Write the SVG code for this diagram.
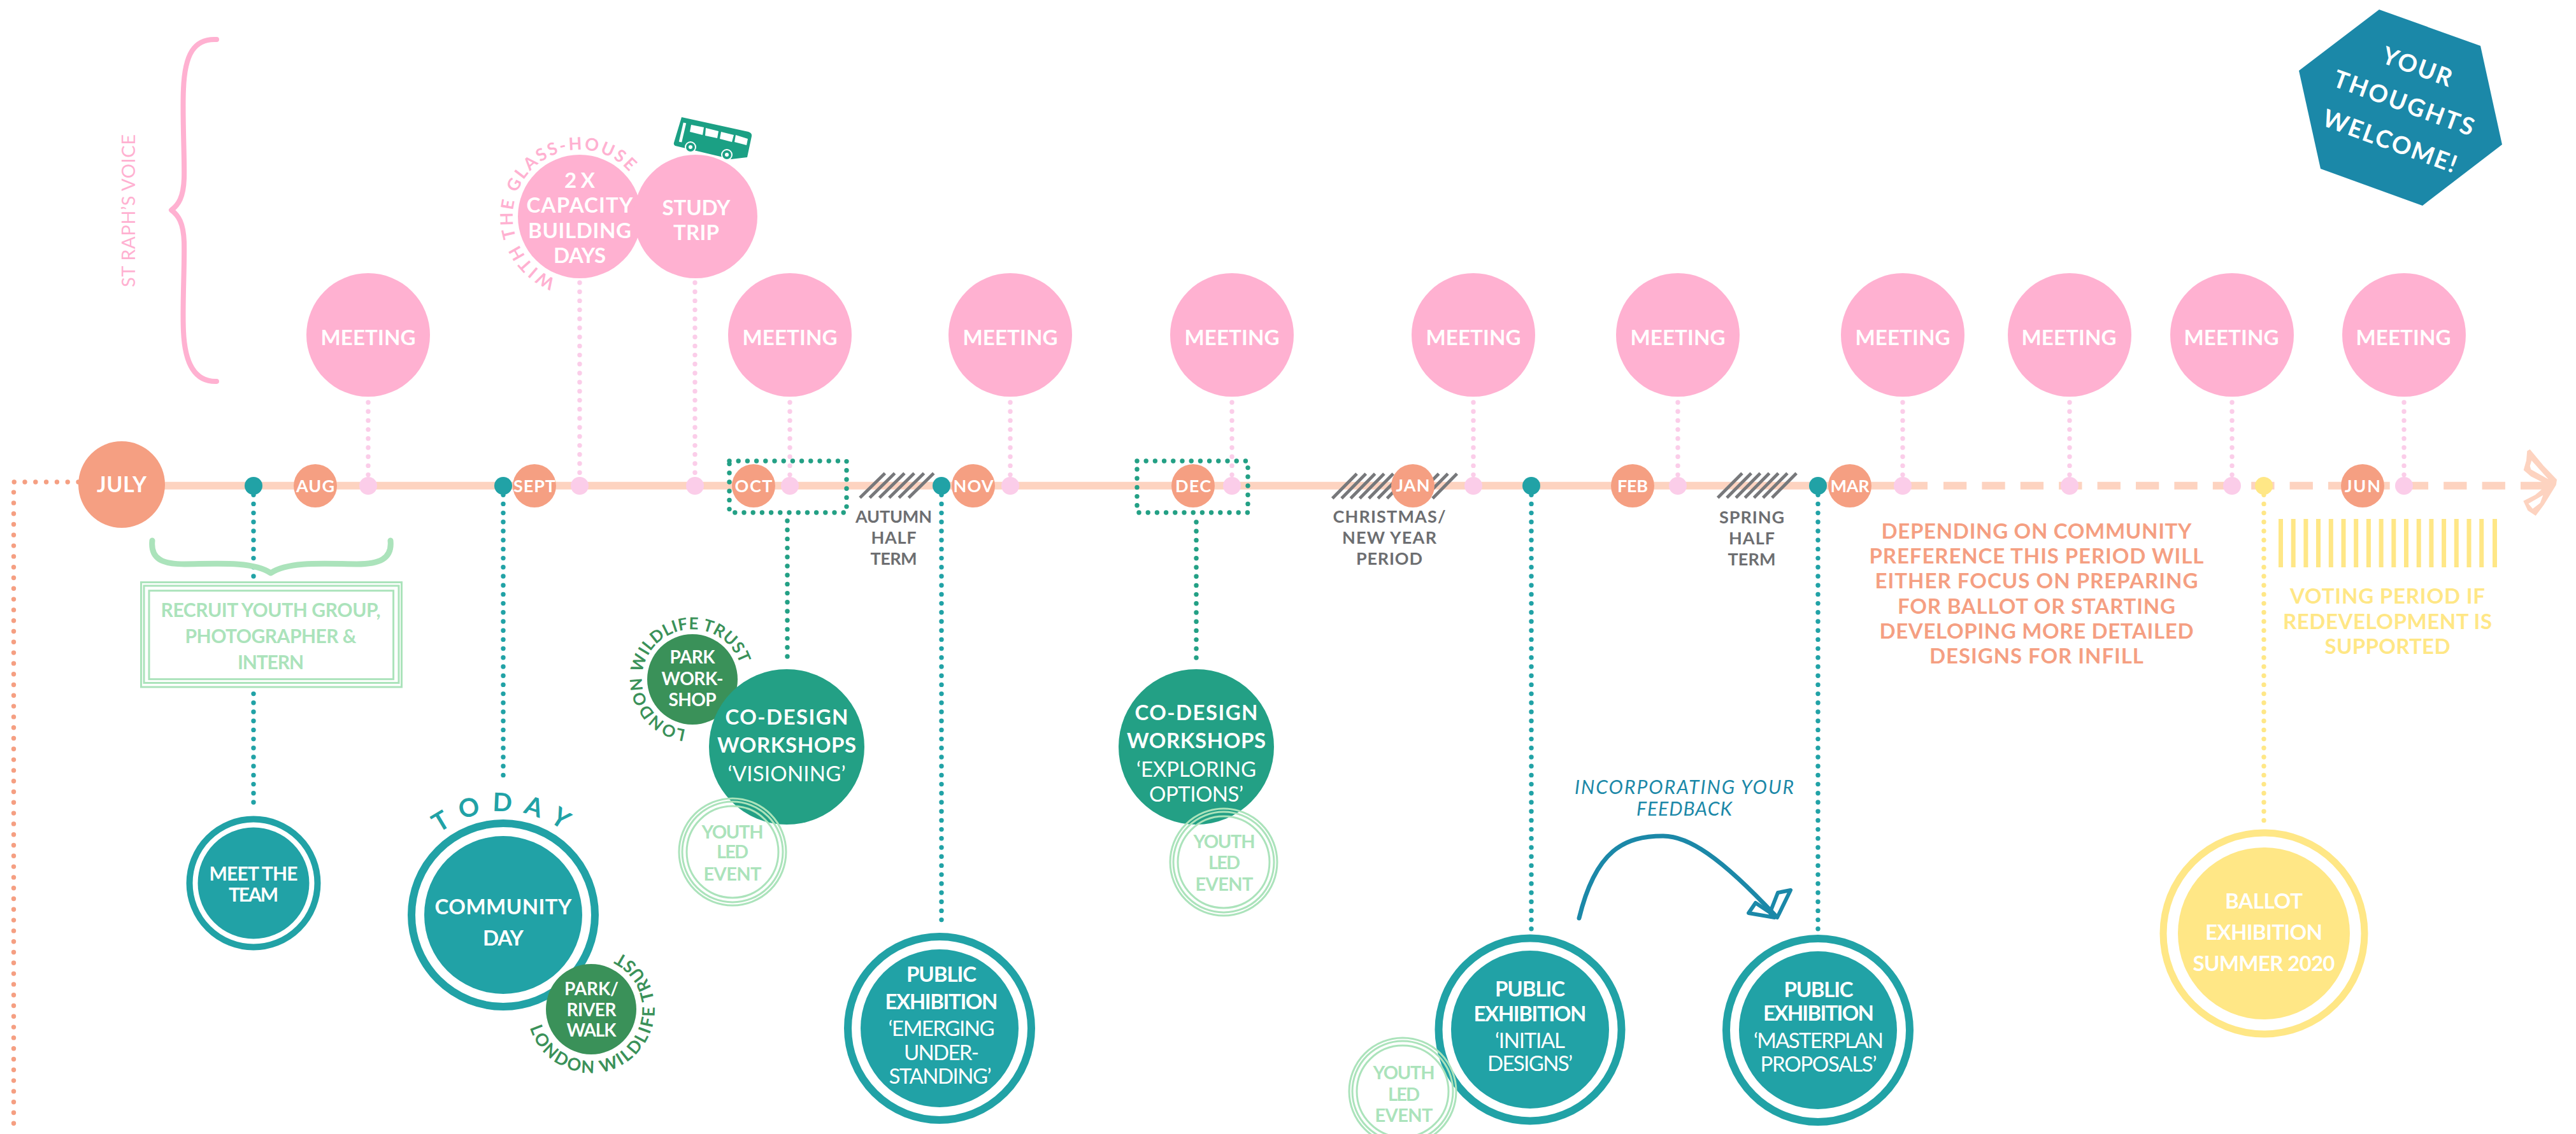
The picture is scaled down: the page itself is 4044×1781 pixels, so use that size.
<svg xmlns="http://www.w3.org/2000/svg" width="4044" height="1781" viewBox="0 0 4044 1781">
<style>
text{font-family:"Lato","Liberation Sans",sans-serif;text-anchor:middle;font-weight:700}
.w{fill:#fff}
.r{font-weight:400}
.m{font-size:33px}
.mo{font-size:27px}
.s{font-size:28px}
.n{font-size:33px}
.g{fill:#6d6e71;font-size:27px}
.o{fill:#f59f82;font-size:33px}
.y{fill:#ffe786;font-size:33px}
.mt{fill:#abe3bb;font-size:30px}
.yt{fill:#abe3bb;font-size:29px}
.meet{fill:#ffb1d1}
.month{fill:#f59f82}
.tick{fill:#fbcde9}
.teal{fill:#21a2a6}
.dk{fill:#23a085}
.fg{fill:#3a9159}
.ring{fill:none;stroke:#21a2a6;stroke-width:12}
.yr{fill:none;stroke:#abe3bb;stroke-width:3}
.dot{fill:none;stroke-linecap:round;stroke-width:7.4;stroke-dasharray:0 14.2}
.dp{stroke:#fbcde9}
.dt{stroke:#21a2a6}
.dg{stroke:#23a085}
.dy{stroke:#ffe786}
.do{stroke:#f59f82;stroke-dasharray:0 16.8}
.hatch{fill:none;stroke:#77787b;stroke-width:5}
.curve{fill:none;stroke-linecap:round;stroke-linejoin:round}
</style>
<defs>
<path id="arcGlass" d="M990.4 407.5A105 105 0 1 1 1000.9 392.5"/>
<path id="arcPark" d="M1142.9 1122.9A79 79 0 1 1 1151.7 1112.3"/>
<path id="arcRiver" d="M856 1515.5A100 100 0 1 0 869.2 1504.1"/>
<path id="arcToday" d="M629.5 1409A163 163 0 0 1 950.5 1409"/>
</defs>
<g id="connectors">
<path class="dot do" d="M123 757H21.5V1781"/>
<path d="M191 762.7H3026" stroke="#fdd3c0" stroke-width="12" fill="none"/>
<path d="M3051 762.7H3958" stroke="#fdd3c0" stroke-width="12" fill="none" stroke-dasharray="36.3 24.1"/>
<path class="dot dp" d="M578 632V763"/>
<path class="dot dp" d="M910 444V763"/>
<path class="dot dp" d="M1091 444V763"/>
<path class="dot dp" d="M1240 632V763"/>
<path class="dot dp" d="M1586 632V763"/>
<path class="dot dp" d="M1934 632V763"/>
<path class="dot dp" d="M2313 632V763"/>
<path class="dot dp" d="M2634 632V763"/>
<path class="dot dp" d="M2987 632V763"/>
<path class="dot dp" d="M3249 632V763"/>
<path class="dot dp" d="M3504 632V763"/>
<path class="dot dp" d="M3774 632V763"/>
<path class="dot dt" d="M398 763V1274"/>
<path class="dot dt" d="M790 763V1230"/>
<path class="dot dt" d="M1478 763V1458"/>
<path class="dot dt" d="M2404 763V1460"/>
<path class="dot dt" d="M2854 763V1460"/>
<path class="dot dy" d="M3554 763V1294"/>
<path class="dot dg" d="M1236 818V1044"/>
<path class="dot dg" d="M1878 820V1042"/>
<path class="dot dg" d="M1145 724H1329V805H1145Z"/>
<path class="dot dg" d="M1785 724H1959V805H1785Z"/>
<path class="hatch" d="M1350 781.7L1389.3 743.3M1365.3 781.7L1404.6 743.3M1380.6 781.7L1419.9 743.3M1395.9 781.7L1435.2 743.3M1411.2 781.7L1450.5 743.3M1426.5 781.7L1465.8 743.3"/>
<path class="hatch" d="M2091.7 782.7L2130 744M2106 782.7L2144.3 744M2120.3 782.7L2158.6 744M2134.6 782.7L2172.9 744M2148.9 782.7L2187.2 744M2163.2 782.7L2201.5 744M2177.5 782.7L2215.8 744M2191.8 782.7L2230.1 744M2206.1 782.7L2244.4 744M2220.4 782.7L2258.7 744M2234.7 782.7L2273 744M2249 782.7L2287.3 744"/>
<path class="hatch" d="M2696.7 781.7L2735 743.3M2710.9 781.7L2749.2 743.3M2725.1 781.7L2763.4 743.3M2739.3 781.7L2777.6 743.3M2753.5 781.7L2791.8 743.3M2767.7 781.7L2806 743.3M2781.9 781.7L2820.2 743.3"/>
<path d="M3971.7 705.7L3993.3 731.7L4014 753.3L4012.7 761.7L3993.3 793.3L3980.7 810L3968.3 801.7L3961.3 786.7L3980 777.3L3990 768.7H3958V756.7H3990L3973.3 748.3L3961.7 738.3L3966 723.3L3967.3 708.3ZM3974.3 723.3L4000.7 752.7L3973.3 737.3L3971.7 731.7ZM3992.3 777.7L3987.7 790L3976 799L3969.3 791Z" fill="#fdd3c0" fill-rule="evenodd"/>
<path class="curve" stroke="#1b88a8" stroke-width="7" d="M2479 1442C2505 1335 2550 1313 2611 1313C2650 1313 2700 1345 2787 1438"/>
<path class="curve" stroke="#1b88a8" stroke-width="6" d="M2790 1441L2811 1398L2791 1402L2780 1430ZM2786 1441L2745 1434L2756 1418L2777 1432Z"/>
</g>
<g id="brace-voice"><path class="curve" stroke="#ffb1d1" stroke-width="8" d="M340 62C305 60 290 85 288 140C286 180 290 250 289 280C288 310 280 322 269 330C280 338 288 350 289 380C290 420 286 480 288 520C290 570 305 600 340 599"/>
<text class="r" fill="#ffb1d1" font-size="29" transform="rotate(-90 212 331)" x="212" y="331" textLength="240">ST RAPH’S VOICE</text></g>
<g id="brace-recruit"><path class="curve" stroke="#abe3bb" stroke-width="9" d="M239 849C236 878 255 886 290 886C330 886 395 880 425 900C455 880 520 886 560 886C595 886 616 878 613 849"/></g>
<g id="recruit"><rect x="221.5" y="914.5" width="409" height="164.5" fill="#fff" stroke="#abe3bb" stroke-width="3"/><rect x="226" y="920" width="400" height="152.5" fill="none" stroke="#abe3bb" stroke-width="3"/><rect x="234" y="927.7" width="383.6" height="139" fill="none" stroke="#abe3bb" stroke-width="3"/>
<text class="mt" x="425" y="969" textLength="345">RECRUIT YOUTH GROUP,</text><text class="mt" x="425" y="1010" textLength="269">PHOTOGRAPHER &amp;</text><text class="mt" x="425" y="1051" textLength="104">INTERN</text></g>
<g id="m1"><circle class="meet" cx="578" cy="526" r="97"/><text class="w m" x="578" y="541.6" textLength="149">MEETING</text></g>
<g id="m2"><circle class="meet" cx="1240" cy="526" r="97"/><text class="w m" x="1240" y="541.6" textLength="149">MEETING</text></g>
<g id="m3"><circle class="meet" cx="1586" cy="526" r="97"/><text class="w m" x="1586" y="541.6" textLength="149">MEETING</text></g>
<g id="m4"><circle class="meet" cx="1934" cy="526" r="97"/><text class="w m" x="1934" y="541.6" textLength="149">MEETING</text></g>
<g id="m5"><circle class="meet" cx="2313" cy="526" r="97"/><text class="w m" x="2313" y="541.6" textLength="149">MEETING</text></g>
<g id="m6"><circle class="meet" cx="2634" cy="526" r="97"/><text class="w m" x="2634" y="541.6" textLength="149">MEETING</text></g>
<g id="m7"><circle class="meet" cx="2987" cy="526" r="97"/><text class="w m" x="2987" y="541.6" textLength="149">MEETING</text></g>
<g id="m8"><circle class="meet" cx="3249" cy="526" r="97"/><text class="w m" x="3248" y="541.6" textLength="149">MEETING</text></g>
<g id="m9"><circle class="meet" cx="3504" cy="526" r="97"/><text class="w m" x="3503" y="541.6" textLength="149">MEETING</text></g>
<g id="m10"><circle class="meet" cx="3774" cy="526" r="97"/><text class="w m" x="3773" y="541.6" textLength="149">MEETING</text></g>
<g id="capacity"><circle class="meet" cx="910" cy="340" r="97"/><text class="w m" x="910" y="295" textLength="48">2 X</text><text class="w m" x="910" y="334" textLength="167">CAPACITY</text><text class="w m" x="910" y="374" textLength="162">BUILDING</text><text class="w m" x="910" y="413" textLength="82">DAYS</text>
<text fill="#ffb1d1" font-size="27" letter-spacing="3"><textPath href="#arcGlass" startOffset="50%">WITH THE GLASS-HOUSE</textPath></text></g>
<g id="study"><circle class="meet" cx="1092" cy="340" r="97"/><text class="w m" x="1093" y="338" textLength="107">STUDY</text><text class="w m" x="1093" y="377" textLength="72">TRIP</text></g>
<g id="bus"><path fill="#1ba084" d="M1070 184L1175 207Q1181 209 1180 214L1173 247L1148 250L1060 229Q1057 227 1058 224Z"/>
<path class="w" d="M1085 196L1105 200L1103 212L1083 207ZM1108 201L1128 206L1126 217L1107 213ZM1132 207L1152 212L1149 223L1130 218ZM1155 212L1174 218L1172 228L1153 223Z"/>
<path stroke="#fff" stroke-width="4.5" fill="none" d="M1075 193L1068 223"/>
<circle cx="1084" cy="231" r="8" fill="#1ba084" stroke="#fff" stroke-width="2"/><circle cx="1084" cy="231" r="3" fill="#fff"/>
<circle cx="1141" cy="243" r="8" fill="#1ba084" stroke="#fff" stroke-width="2"/><circle cx="1141" cy="243" r="3" fill="#fff"/></g>
<g id="july"><circle class="month" cx="191" cy="761" r="68"/><text class="w" font-size="34" x="191" y="773" textLength="78">JULY</text></g>
<g id="ticks"><circle class="tick" cx="578" cy="763" r="14"/><circle class="tick" cx="910" cy="763" r="14"/><circle class="tick" cx="1091" cy="763" r="14"/><circle class="tick" cx="1240" cy="763" r="14"/><circle class="tick" cx="1586" cy="763" r="14"/><circle class="tick" cx="1934" cy="763" r="14"/><circle class="tick" cx="2313" cy="763" r="14"/><circle class="tick" cx="2634" cy="763" r="14"/><circle class="tick" cx="2987" cy="763" r="14"/><circle class="tick" cx="3249" cy="763" r="14"/><circle class="tick" cx="3504" cy="763" r="14"/><circle class="tick" cx="3774" cy="763" r="14"/>
<circle class="teal" cx="398" cy="763" r="14"/><circle class="teal" cx="790" cy="763" r="14"/><circle class="teal" cx="1478" cy="763" r="14"/><circle class="teal" cx="2404" cy="763" r="14"/><circle class="teal" cx="2854" cy="763" r="14"/><circle fill="#ffe786" cx="3554" cy="763" r="14"/></g>
<g id="aug"><circle class="month" cx="495" cy="763" r="34"/><text class="w mo" x="495" y="773" textLength="60">AUG</text></g>
<g id="sept"><circle class="month" cx="839" cy="763" r="34"/><text class="w mo" x="839" y="773" textLength="66">SEPT</text></g>
<g id="oct"><circle class="month" cx="1183" cy="763" r="34"/><text class="w mo" x="1183" y="773" textLength="59">OCT</text></g>
<g id="nov"><circle class="month" cx="1528" cy="763" r="34"/><text class="w mo" x="1528" y="773" textLength="63">NOV</text></g>
<g id="dec"><circle class="month" cx="1873" cy="763" r="34"/><text class="w mo" x="1873" y="773" textLength="56">DEC</text></g>
<g id="jan"><circle class="month" cx="2218" cy="763" r="34"/><text class="w mo" x="2218" y="772" textLength="53">JAN</text></g>
<g id="feb"><circle class="month" cx="2563" cy="763" r="34"/><text class="w mo" x="2563" y="773" textLength="48">FEB</text></g>
<g id="mar"><circle class="month" cx="2904" cy="763" r="34"/><text class="w mo" x="2904" y="773" textLength="61">MAR</text></g>
<g id="jun"><circle class="month" cx="3709" cy="763" r="34"/><text class="w mo" x="3709" y="773" textLength="56">JUN</text></g>
<g id="labels"><text class="g" x="1403" y="821" textLength="120">AUTUMN</text><text class="g" x="1403" y="854" textLength="71">HALF</text><text class="g" x="1403" y="887" textLength="73">TERM</text>
<text class="g" x="2181" y="821" textLength="177">CHRISTMAS/</text><text class="g" x="2181" y="854" textLength="148">NEW YEAR</text><text class="g" x="2181" y="887" textLength="104">PERIOD</text>
<text class="g" x="2750" y="822" textLength="102">SPRING</text><text class="g" x="2750" y="855" textLength="72">HALF</text><text class="g" x="2750" y="888" textLength="75">TERM</text>
<text class="o" x="3197" y="846" textLength="487">DEPENDING ON COMMUNITY</text><text class="o" x="3197" y="885" textLength="525">PREFERENCE THIS PERIOD WILL</text><text class="o" x="3197" y="924" textLength="507">EITHER FOCUS ON PREPARING</text><text class="o" x="3197" y="964" textLength="436">FOR BALLOT OR STARTING</text><text class="o" x="3197" y="1003" textLength="493">DEVELOPING MORE DETAILED</text><text class="o" x="3197" y="1042" textLength="336">DESIGNS FOR INFILL</text>
<text class="y" x="3748" y="948" textLength="306">VOTING PERIOD IF</text><text class="y" x="3748" y="988" textLength="328">REDEVELOPMENT IS</text><text class="y" x="3748" y="1027" textLength="197">SUPPORTED</text>
<text class="r" fill="#1b88a8" font-size="30" font-style="italic" x="2644" y="1246.5" textLength="344">INCORPORATING YOUR</text><text class="r" fill="#1b88a8" font-size="30" font-style="italic" x="2644" y="1281" textLength="150">FEEDBACK</text></g>
<g id="voting-bars" fill="#ffe786"><rect x="3577" y="815" width="7" height="76"/><rect x="3596.7" y="815" width="7" height="76"/><rect x="3616.4" y="815" width="7" height="76"/><rect x="3636" y="815" width="7" height="76"/><rect x="3655.8" y="815" width="7" height="76"/><rect x="3675.5" y="815" width="7" height="76"/><rect x="3695.2" y="815" width="7" height="76"/><rect x="3714.9" y="815" width="7" height="76"/><rect x="3734.6" y="815" width="7" height="76"/><rect x="3754.3" y="815" width="7" height="76"/><rect x="3774" y="815" width="7" height="76"/><rect x="3793.7" y="815" width="7" height="76"/><rect x="3813.4" y="815" width="7" height="76"/><rect x="3833.1" y="815" width="7" height="76"/><rect x="3852.8" y="815" width="7" height="76"/><rect x="3872.5" y="815" width="7" height="76"/><rect x="3892.2" y="815" width="7" height="76"/><rect x="3913" y="815" width="7" height="76"/></g>
<g id="meet-team"><circle cx="398" cy="1387" r="100.5" fill="none" stroke="#21a2a6" stroke-width="10"/><circle class="teal" cx="398" cy="1387" r="87.5"/><text class="w" font-size="30" x="398" y="1383" textLength="139">MEET THE</text><text class="w" font-size="30" x="398" y="1416" textLength="78">TEAM</text></g>
<g id="community"><circle class="ring" cx="790" cy="1437" r="144"/><circle class="teal" cx="790" cy="1437" r="124"/><text class="w" font-size="33" x="790" y="1436" textLength="215">COMMUNITY</text><text class="w" font-size="33" x="790" y="1485" textLength="64">DAY</text>
<text fill="#21a2a6" font-size="40" letter-spacing="18"><textPath href="#arcToday" startOffset="51%">TODAY</textPath></text></g>
<g id="park-river"><circle class="fg" cx="928" cy="1585" r="71"/><text class="w s" x="928.5" y="1563" textLength="85">PARK/</text><text class="w s" x="928.5" y="1595.5" textLength="78">RIVER</text><text class="w s" x="928.5" y="1628" textLength="78">WALK</text>
<text fill="#3a9159" font-size="27" letter-spacing="2.8"><textPath href="#arcRiver" startOffset="50%">LONDON WILDLIFE TRUST</textPath></text></g>
<g id="park-workshop"><circle class="fg" cx="1087" cy="1067" r="71"/><text class="w s" x="1087" y="1042" textLength="71">PARK</text><text class="w s" x="1087" y="1076" textLength="97">WORK-</text><text class="w s" x="1087" y="1109" textLength="75">SHOP</text>
<text fill="#3a9159" font-size="26" letter-spacing="0.5"><textPath href="#arcPark" startOffset="50%">LONDON WILDLIFE TRUST</textPath></text></g>
<g id="codesign-1"><circle class="dk" cx="1235" cy="1173" r="122"/><text class="w n" x="1235" y="1138" textLength="193">CO-DESIGN</text><text class="w n" x="1235" y="1182" textLength="218">WORKSHOPS</text><text class="w n r" x="1235" y="1227" textLength="185">‘VISIONING’</text></g>
<g id="youth-1"><circle class="yr" cx="1150" cy="1338" r="84"/><circle class="yr" cx="1150" cy="1338" r="79"/><circle class="yr" cx="1150" cy="1338" r="72"/><text class="yt" x="1150" y="1317" textLength="97">YOUTH</text><text class="yt" x="1150" y="1348" textLength="50">LED</text><text class="yt" x="1150" y="1383" textLength="91">EVENT</text></g>
<g id="codesign-2"><circle class="dk" cx="1878" cy="1173" r="122"/><text class="w n" x="1878" y="1130.5" textLength="193">CO-DESIGN</text><text class="w n" x="1878" y="1175" textLength="218">WORKSHOPS</text><text class="w n r" x="1878" y="1220" textLength="188">‘EXPLORING</text><text class="w n r" x="1878" y="1258.5" textLength="148">OPTIONS’</text></g>
<g id="youth-2"><circle class="yr" cx="1921" cy="1354" r="84"/><circle class="yr" cx="1921" cy="1354" r="79"/><circle class="yr" cx="1921" cy="1354" r="72"/><text class="yt" x="1922" y="1332" textLength="97">YOUTH</text><text class="yt" x="1922" y="1365" textLength="50">LED</text><text class="yt" x="1922" y="1399" textLength="91">EVENT</text></g>
<g id="public-1"><circle class="ring" cx="1475" cy="1615" r="144"/><circle class="teal" cx="1475" cy="1615" r="124"/><text class="w n" x="1478" y="1542" textLength="110">PUBLIC</text><text class="w n" x="1478" y="1585" textLength="177">EXHIBITION</text><text class="w n r" x="1478" y="1626.5" textLength="167">‘EMERGING</text><text class="w n r" x="1478" y="1665" textLength="118">UNDER-</text><text class="w n r" x="1476" y="1702" textLength="161">STANDING’</text></g>
<g id="public-2"><circle class="ring" cx="2402" cy="1617" r="143.5"/><circle class="teal" cx="2402" cy="1617" r="124"/><text class="w n" x="2402" y="1565" textLength="110">PUBLIC</text><text class="w n" x="2402" y="1603.6" textLength="177">EXHIBITION</text><text class="w n r" x="2402" y="1646" textLength="110">‘INITIAL</text><text class="w n r" x="2402" y="1682" textLength="134">DESIGNS’</text></g>
<g id="youth-3"><circle class="yr" cx="2202" cy="1714" r="84"/><circle class="yr" cx="2202" cy="1714" r="79"/><circle class="yr" cx="2202" cy="1714" r="72"/><text class="yt" x="2204" y="1695" textLength="97">YOUTH</text><text class="yt" x="2204" y="1728.6" textLength="50">LED</text><text class="yt" x="2204" y="1762" textLength="91">EVENT</text></g>
<g id="public-3"><circle class="ring" cx="2854" cy="1618" r="144"/><circle class="teal" cx="2854" cy="1618" r="124"/><text class="w n" x="2855" y="1566" textLength="109">PUBLIC</text><text class="w n" x="2855" y="1602.6" textLength="174">EXHIBITION</text><text class="w n r" x="2855" y="1646" textLength="204">‘MASTERPLAN</text><text class="w n r" x="2855" y="1683" textLength="183">PROPOSALS’</text></g>
<g id="ballot"><circle cx="3554" cy="1466" r="158" fill="none" stroke="#ffe786" stroke-width="11"/><circle cx="3554" cy="1466" r="135" fill="#ffe786"/><text class="w n" x="3554" y="1427" textLength="122">BALLOT</text><text class="w n" x="3554" y="1476" textLength="184">EXHIBITION</text><text class="w n" x="3554" y="1525" textLength="223">SUMMER 2020</text></g>
<g id="thoughts"><path fill="#1b88a8" d="M3735 15L3894 72L3928 227L3803 323L3643 265L3609 111Z"/>
<text class="w" font-size="38" x="3795" y="118" textLength="114" transform="rotate(20 3795 104)">YOUR</text><text class="w" font-size="38" x="3774" y="175" textLength="232" transform="rotate(20 3774 161)">THOUGHTS</text><text class="w" font-size="38" x="3752" y="235" textLength="221" transform="rotate(20 3752 221)">WELCOME!</text></g>
</svg>
